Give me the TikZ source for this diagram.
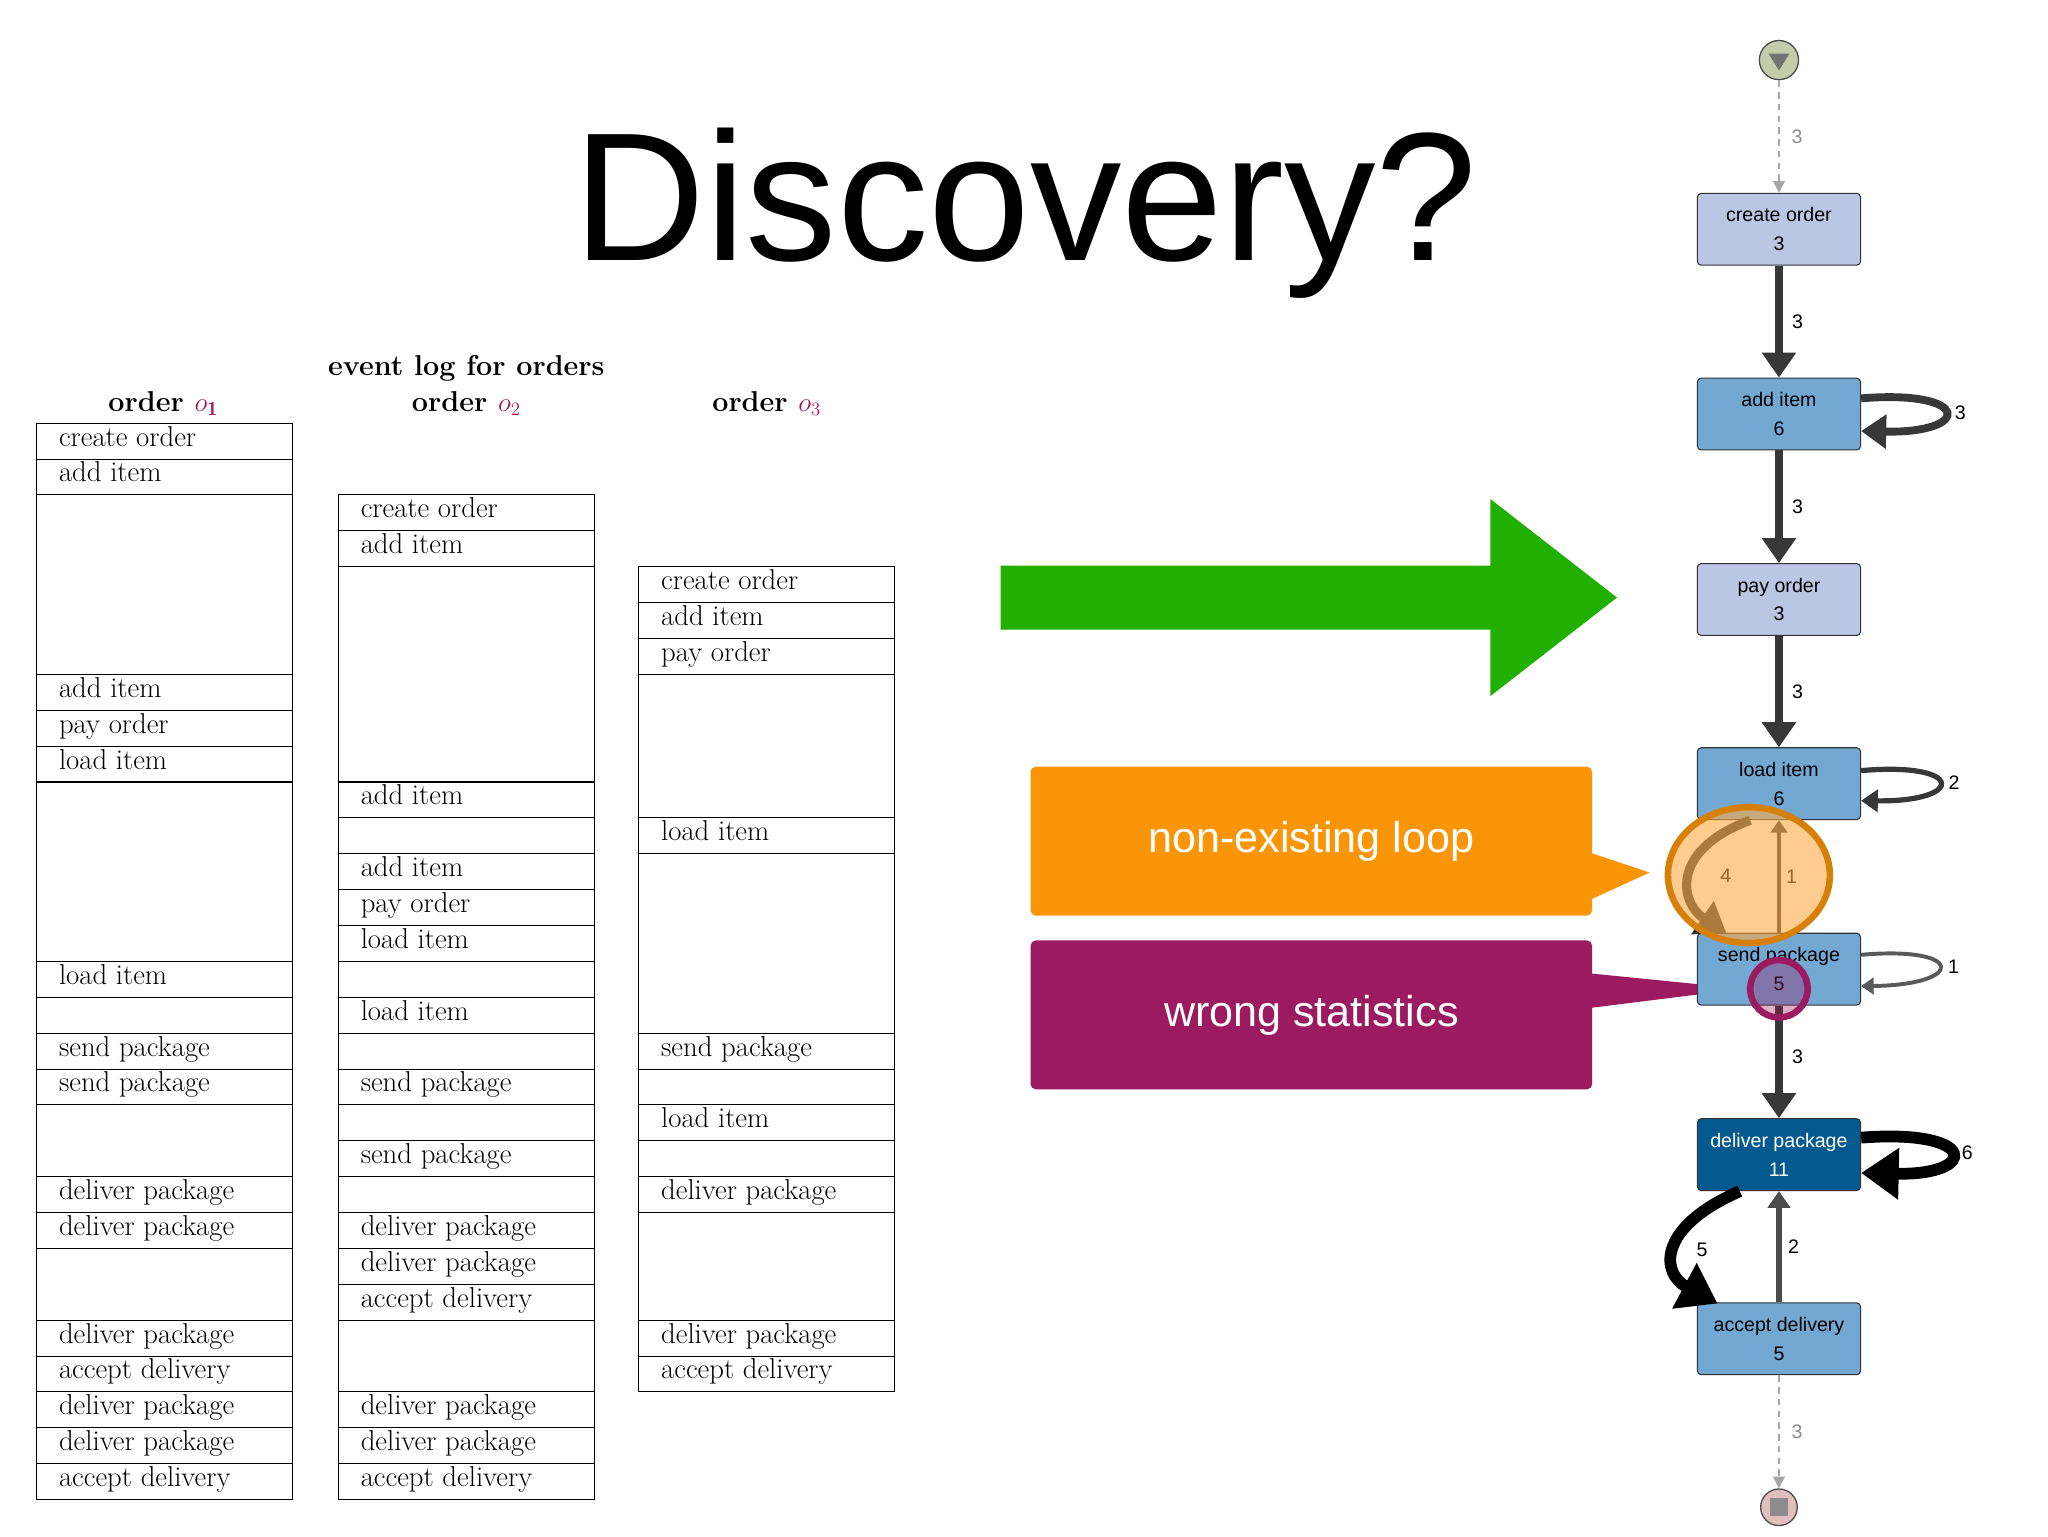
\documentclass[tikz,border=0pt]{standalone}
\usepackage{fontspec}
\newfontfamily\sff{Liberation Sans}
\usetikzlibrary{arrows.meta,shapes.geometric}
\definecolor{omag}{HTML}{A3195B}
\definecolor{grn}{HTML}{22B000}
\definecolor{org}{HTML}{FA9507}
\definecolor{pur}{HTML}{9C1A5F}
\definecolor{lav}{HTML}{BBC6E4}
\definecolor{mid}{HTML}{72A8D2}
\definecolor{dark}{HTML}{045A8F}
\definecolor{edg}{HTML}{383838}
\begin{document}
\begin{tikzpicture}[x=1pt,y=-1pt,
  cell/.style={draw=black,line width=0.8pt},
  ctext/.style={anchor=west,inner sep=0pt,font=\fontsize{22}{24}\selectfont},
  hdr/.style={font=\fontsize{22}{24}\selectfont\bfseries},
  act/.style={draw=black!80,rounded corners=3pt,minimum width=125pt,minimum height=55pt,inner sep=0pt,align=center,font=\sff\fontsize{15}{22}\selectfont,line width=0.8pt},
  e/.style={draw=edg,line width=#1,-{Triangle[width=4.2*#1,length=3.2*#1]}},
  lbl/.style={font=\sff\fontsize{15}{17}\selectfont,inner sep=1pt},
  callout/.style={rounded corners=4pt,minimum width=430pt,minimum height=114pt,text=white,font=\sff\fontsize{33}{36}\selectfont}]
\useasboundingbox (0,0) rectangle (1568,1176);
\fill[white] (0,0) rectangle (1568,1176);
% title
\node (title) at (785,163) {\sff\fontsize{140}{140}\selectfont Discovery?};
% headers
\node[hdr] (hlog) at (357,282) {event log for orders};
\node[hdr] (h1) at (125,309) {order \textcolor{omag}{$\mathbf{\mathnormal{o}_1}$}};
\node[hdr] (h2) at (357,309) {order \textcolor{omag}{$o_2$}};
\node[hdr] (h3) at (587,309) {order \textcolor{omag}{$o_3$}};
\def\r{27.47}
% columns
\foreach \c/\x/\cells in {
 a/28/{1/1/create order,2/2/add item,3/7/,8/8/add item,9/9/pay order,10/10/load item,11/15/,16/16/load item,17/17/,18/18/send package,19/19/send package,20/21/,22/22/deliver package,23/23/deliver package,24/25/,26/26/deliver package,27/27/accept delivery,28/28/deliver package,29/29/deliver package,30/30/accept delivery},
 b/259/{3/3/create order,4/4/add item,5/10/,11/11/add item,12/12/,13/13/add item,14/14/pay order,15/15/load item,16/16/,17/17/load item,18/18/,19/19/send package,20/20/,21/21/send package,22/22/,23/23/deliver package,24/24/deliver package,25/25/accept delivery,26/27/,28/28/deliver package,29/29/deliver package,30/30/accept delivery},
 c/489/{5/5/create order,6/6/add item,7/7/pay order,8/11/,12/12/load item,13/17/,18/18/send package,19/19/,20/20/load item,21/21/,22/22/deliver package,23/25/,26/26/deliver package,27/27/accept delivery}}{
  \foreach \s/\t/\txt in \cells {
    \draw[cell] (\x,{324+(\s-1)*\r}) rectangle ({\x+196},{324+\t*\r});
    \node[ctext] (t\c\s) at ({\x+17},{324+(\s-0.5)*\r-1}) {\strut\txt};
  }
}
% green arrow
\fill[grn] (766,433) -- (1141,433) -- (1141,382) -- (1238,457.5) -- (1141,533) -- (1141,482) -- (766,482) -- cycle;
% callouts
\fill[org] (1215,652) -- (1263,668) -- (1215,690) -- cycle;
\node[callout,fill=org] (loopbox) at (1004,644) {non-existing loop};
\fill[pur] (1215,745) -- (1335,757) -- (1215,772) -- cycle;
\node[callout,fill=pur] (statbox) at (1004,777) {wrong statistics};
% process map
\node[circle,draw=black!70,fill={rgb,255:red,196;green,204;blue,170},minimum size=30pt,inner sep=0pt,line width=1pt] (start) at (1362,46) {};
\fill[black!55] (1354,41) -- (1370,41) -- (1362,54) -- cycle;
\node[circle,draw=black!70,fill={rgb,255:red,226;green,190;blue,190},minimum size=28pt,inner sep=0pt,line width=1pt] (end) at (1362,1154) {};
\fill[black!45] (1355,1147) rectangle (1369,1161);
\node[act,fill=lav] (co) at (1362,175.5) {create order\\3};
\node[act,fill=mid] (ai) at (1362,317) {add item\\6};
\node[act,fill=lav] (po) at (1362,459) {pay order\\3};
\node[act,fill=mid] (li) at (1362,600) {load item\\6};
\node[act,fill=mid] (sp) at (1362,742) {send package\\5};
\node[act,fill=dark,text=white] (dp) at (1362,884) {deliver package\\11};
\node[act,fill=mid] (ad) at (1362,1025) {accept delivery\\5};
% edges
\draw[draw=black!35,line width=1.5pt,dash pattern=on 5pt off 4pt,-{Triangle[width=9pt,length=9pt]}] (start) -- node[lbl,right,text=black!45,xshift=8pt]{3} (co);
\draw[draw=black!35,line width=1.5pt,dash pattern=on 5pt off 4pt,-{Triangle[width=9pt,length=9pt]}] (ad) -- node[lbl,right,text=black!45,xshift=8pt]{3} (end);
\draw[e=6pt] (co) -- node[lbl,right,xshift=6pt]{3} (ai);
\draw[e=6pt] (ai) -- node[lbl,right,xshift=6pt]{3} (po);
\draw[e=6pt] (po) -- node[lbl,right,xshift=6pt]{3} (li);
\draw[e=6pt] (sp) -- node[lbl,right,xshift=6pt,pos=0.45]{3} (dp);
\draw[e=6pt] (ai.east|-1425,305) .. controls (1510,298) and (1510,332) .. node[lbl,right,xshift=4pt,pos=0.5]{3} (ai.east|-1425,330);
\draw[e=4pt] (li.east|-1425,590) .. controls (1505,583) and (1505,614) .. node[lbl,right,xshift=4pt,pos=0.5]{2} (li.east|-1425,613);
\draw[e=3pt,draw=black!65] (sp.east|-1425,731) .. controls (1505,724) and (1505,754) .. node[lbl,right,xshift=4pt,pos=0.5]{1} (sp.east|-1425,755);
\draw[e=9pt,draw=black] (dp.east|-1425,871) .. controls (1515,864) and (1515,900) .. node[lbl,right,xshift=4pt,pos=0.5]{6} (dp.east|-1425,898);
\draw[e=9pt,draw=black] (1332,912) .. controls (1268,940) and (1272,975) .. node[lbl,right,xshift=10pt]{5} (1315,998);
\draw[e=4pt,draw=black!70] (ad) -- node[lbl,right,xshift=4pt]{2} (dp);
\draw[e=7pt,draw=black!80] (1340,628) .. controls (1280,650) and (1285,690) .. node[lbl,right,xshift=18pt]{4} (1322,715);
\draw[e=3pt,draw=black!80] (sp) -- node[lbl,right,xshift=3pt]{1} (li);
% overlays
\node[ellipse,minimum width=124pt,minimum height=104pt,draw={rgb,255:red,214;green,128;blue,10},line width=5pt,fill={rgb,255:red,255;green,170;blue,70},fill opacity=0.6] (hl) at (1339,670) {};
\node[circle,minimum size=44pt,draw=pur,line width=5pt,fill=pur,fill opacity=0.35] (hs) at (1362,757) {};
\end{tikzpicture}
\end{document}
